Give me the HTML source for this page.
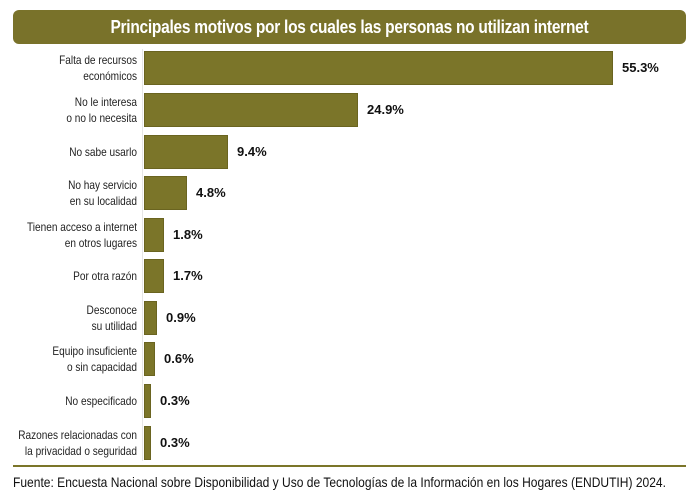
<!DOCTYPE html>
<html><head><meta charset="utf-8"><style>
body{margin:0;width:700px;height:499px;background:#fff;position:relative;overflow:hidden;font-family:"Liberation Sans",sans-serif;}
.t{position:absolute;left:13px;top:10px;width:673px;height:34px;background:#79722a;border-radius:6px}
.t span{position:absolute;left:0;width:673px;text-align:center;color:#fff;font-weight:bold;font-size:18px;line-height:34px;letter-spacing:-0.3px;transform:scaleX(0.86);transform-origin:336px 0;white-space:nowrap}
.b{position:absolute;left:144px;height:34px;background:#7b7529;border:1px solid #6a6420;box-sizing:border-box}
.v{position:absolute;font-weight:bold;font-size:13px;color:#111;line-height:34px}
.l{position:absolute;left:0;width:137px;font-size:12px;color:#222;line-height:16px;height:34px;display:flex;flex-direction:column;justify-content:center;align-items:flex-end;text-align:right;white-space:nowrap;transform:scaleX(0.84);transform-origin:137px 0}
.ax{position:absolute;left:142px;top:49px;width:1px;height:412px;background:#e6e6e6}
.sep{position:absolute;left:13px;top:465px;width:673px;height:2px;background:#7b7529}
.src{position:absolute;left:13px;top:474px;font-size:14px;color:#111;white-space:nowrap;transform:scaleX(0.86);transform-origin:0 0}
</style></head><body>
<div class="t"><span>Principales motivos por los cuales las personas no utilizan internet</span></div>
<div class="ax"></div>
<div class="b" style="top:51px;width:469px"></div><div class="v" style="top:51px;left:622px">55.3%</div><div class="l" style="top:51px">Falta de recursos<br>económicos</div>
<div class="b" style="top:93px;width:214px"></div><div class="v" style="top:93px;left:367px">24.9%</div><div class="l" style="top:93px">No le interesa<br>o no lo necesita</div>
<div class="b" style="top:135px;width:84px"></div><div class="v" style="top:135px;left:237px">9.4%</div><div class="l" style="top:135px">No sabe usarlo</div>
<div class="b" style="top:176px;width:43px"></div><div class="v" style="top:176px;left:196px">4.8%</div><div class="l" style="top:176px">No hay servicio<br>en su localidad</div>
<div class="b" style="top:218px;width:20px"></div><div class="v" style="top:218px;left:173px">1.8%</div><div class="l" style="top:218px">Tienen acceso a internet<br>en otros lugares</div>
<div class="b" style="top:259px;width:20px"></div><div class="v" style="top:259px;left:173px">1.7%</div><div class="l" style="top:259px">Por otra razón</div>
<div class="b" style="top:301px;width:13px"></div><div class="v" style="top:301px;left:166px">0.9%</div><div class="l" style="top:301px">Desconoce<br>su utilidad</div>
<div class="b" style="top:342px;width:11px"></div><div class="v" style="top:342px;left:164px">0.6%</div><div class="l" style="top:342px">Equipo insuficiente<br>o sin capacidad</div>
<div class="b" style="top:384px;width:7px"></div><div class="v" style="top:384px;left:160px">0.3%</div><div class="l" style="top:384px">No especificado</div>
<div class="b" style="top:426px;width:7px"></div><div class="v" style="top:426px;left:160px">0.3%</div><div class="l" style="top:426px">Razones relacionadas con<br>la privacidad o seguridad</div>
<div class="sep"></div>
<div class="src">Fuente: Encuesta Nacional sobre Disponibilidad y Uso de Tecnologías de la Información en los Hogares (ENDUTIH) 2024.</div>
</body></html>
